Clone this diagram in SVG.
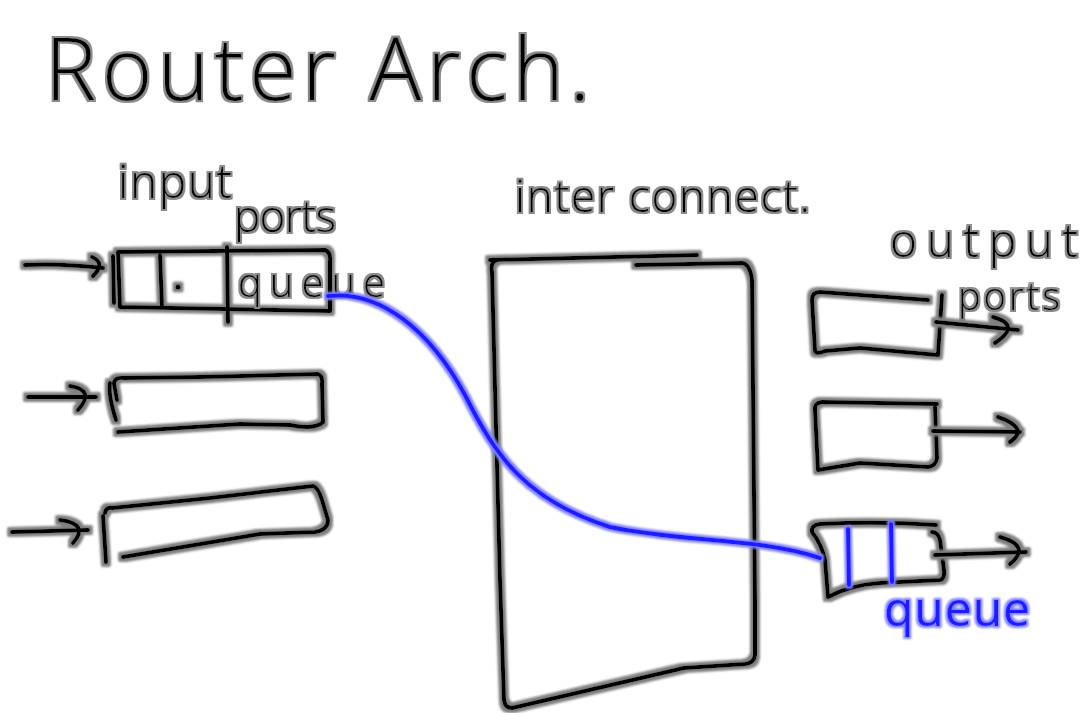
<svg xmlns="http://www.w3.org/2000/svg" width="1091" height="713" viewBox="0 0 1091 713">
<defs>
<filter id="halo" filterUnits="userSpaceOnUse" x="0" y="0" width="1091" height="713">
<feMorphology in="SourceAlpha" operator="dilate" radius="2.6" result="d"/>
<feGaussianBlur in="d" stdDeviation="0.9" result="b"/>
<feFlood flood-color="#808080"/>
<feComposite in2="b" operator="in" result="g"/>
<feMerge><feMergeNode in="g"/><feMergeNode in="SourceGraphic"/></feMerge>
</filter>
<filter id="thalo" filterUnits="userSpaceOnUse" x="0" y="0" width="1091" height="713">
<feMorphology in="SourceAlpha" operator="dilate" radius="1.8" result="d"/>
<feGaussianBlur in="d" stdDeviation="0.7" result="b"/>
<feFlood flood-color="#8a8a8a"/>
<feComposite in2="b" operator="in" result="g"/>
<feMerge><feMergeNode in="g"/><feMergeNode in="SourceGraphic"/></feMerge>
</filter>
<filter id="bhalo" filterUnits="userSpaceOnUse" x="0" y="0" width="1091" height="713">
<feMorphology in="SourceAlpha" operator="dilate" radius="2.4" result="d"/>
<feGaussianBlur in="d" stdDeviation="0.9" result="b"/>
<feFlood flood-color="#8080ff"/>
<feComposite in2="b" operator="in" result="g"/>
<feMerge><feMergeNode in="g"/><feMergeNode in="SourceGraphic"/></feMerge>
</filter>
</defs>
<style>
.k{fill:none;stroke:#000;stroke-width:4;stroke-linecap:round;stroke-linejoin:round}
.b{fill:none;stroke:#1a1aff;stroke-width:4;stroke-linecap:round;stroke-linejoin:round}
.t{font-family:"Open Sans","Liberation Sans","DejaVu Sans",sans-serif;font-weight:300;fill:#000}
.bt{font-family:"Open Sans","Liberation Sans","DejaVu Sans",sans-serif;font-weight:400;fill:#1a1aff}
.hk{filter:url(#halo)}
.ht{filter:url(#thalo)}
.hb{filter:url(#bhalo)}
</style>
<rect width="1091" height="713" fill="#fff"/>

<g id="title" class="ht">
<text class="t" x="45" y="100" font-size="86" textLength="545" lengthAdjust="spacing">Router Arch.</text>
</g>

<g id="labels" class="ht">
<text class="t" x="118" y="198" font-size="46" textLength="114" lengthAdjust="spacing">input</text>
<text class="t" x="234" y="232" font-size="44" textLength="102" lengthAdjust="spacing">ports</text>
<text class="t" x="515" y="212" font-size="44" textLength="295" lengthAdjust="spacing">inter connect.</text>
<text class="t" x="890" y="257" font-size="46" textLength="188" lengthAdjust="spacing">output</text>
<text class="t" x="958" y="310" font-size="38" textLength="102" lengthAdjust="spacing">ports</text>
</g>

<g id="input-port-1" class="hk">
<path class="k" d="M118,252 L325,250 Q331,252 330,262 L330,311 L120,307 Z"/>
<path class="k" d="M113,256 L114,303"/>
<path class="k" d="M160,255 L162,307"/>
<path class="k" d="M227,247 L228,322"/>
<circle cx="178" cy="287" r="2.5" fill="#000"/>
</g>
<g id="input-queue-label" class="ht">
<text class="t" x="238" y="297" font-size="40" textLength="147" lengthAdjust="spacing">queue</text>
</g>

<g id="input-port-2" class="hk">
<path class="k" d="M117,400 L114,384 Q114,377 124,378 L200,377 L318,374 Q323,376 322,384 L323,422 Q315,430 290,425 L240,424 L118,432"/>
<path class="k" d="M110,383 Q108,395 116,420"/>
</g>

<g id="input-port-3" class="hk">
<path class="k" d="M105,513 Q106,507 112,508 L210,498 L313,486 Q318,487 322,500 L328,520 Q328,530 315,532 L260,534 L123,557"/>
<path class="k" d="M103,516 L106,562"/>
</g>

<g id="interconnect" class="hk">
<path class="k" d="M490,260 L697,255"/>
<path class="k" d="M636,265 L742,263 Q750,264 752,280 L755,600 L755,655 Q754,663 745,664 L684,668 L512,708 Q505,708 504,700 L500,580 L492,272 Q490,262 497,260"/>
</g>

<g id="output-port-1" class="hk">
<path class="k" d="M928,300 L820,292 Q812,292 812,300 L815,350 Q815,355 825,351 L860,348 L938,355 L942,295"/>
</g>

<g id="output-port-2" class="hk">
<path class="k" d="M937,404 L822,402 Q814,403 815,410 L818,470 L860,463 L928,467 Q936,466 937,458 L935,407"/>
</g>

<g id="output-port-3" class="hk">
<path class="k" d="M936,525 Q880,521 820,524 Q811,525 812,532 Q822,545 825,560 L828,597 Q850,585 880,583 L940,580 Q945,579 944,570 L940,540 Q938,532 932,532"/>
</g>
<g id="output-queue" class="hb">
<path class="b" d="M848,529 L849,585"/>
<path class="b" d="M891,524 L892,582"/>
<text class="bt" x="884" y="626" font-size="48" textLength="146" lengthAdjust="spacing">queue</text>
</g>

<g id="connectors">
<g class="hk">
<path class="k" d="M25,265 Q60,263 103,268"/>
<path class="k" d="M92,257 Q106,263 93,276"/>
<path class="k" d="M28,397 L96,397"/>
<path class="k" d="M70,386 Q96,390 78,410"/>
<path class="k" d="M12,532 L88,530"/>
<path class="k" d="M60,520 Q90,524 73,543"/>
<path class="k" d="M936,322 L1018,330"/>
<path class="k" d="M993,317 Q1022,325 995,343"/>
<path class="k" d="M933,431 L1020,432"/>
<path class="k" d="M998,417 Q1030,428 1010,442"/>
<path class="k" d="M935,555 L1026,552"/>
<path class="k" d="M1000,537 Q1032,546 1010,564"/>
</g>
<g class="hb">
<path class="b" d="M328,296 C380,290 430,330 465,395 C495,455 525,500 610,527 C680,542 760,538 820,558"/>
</g>
</g>
</svg>
